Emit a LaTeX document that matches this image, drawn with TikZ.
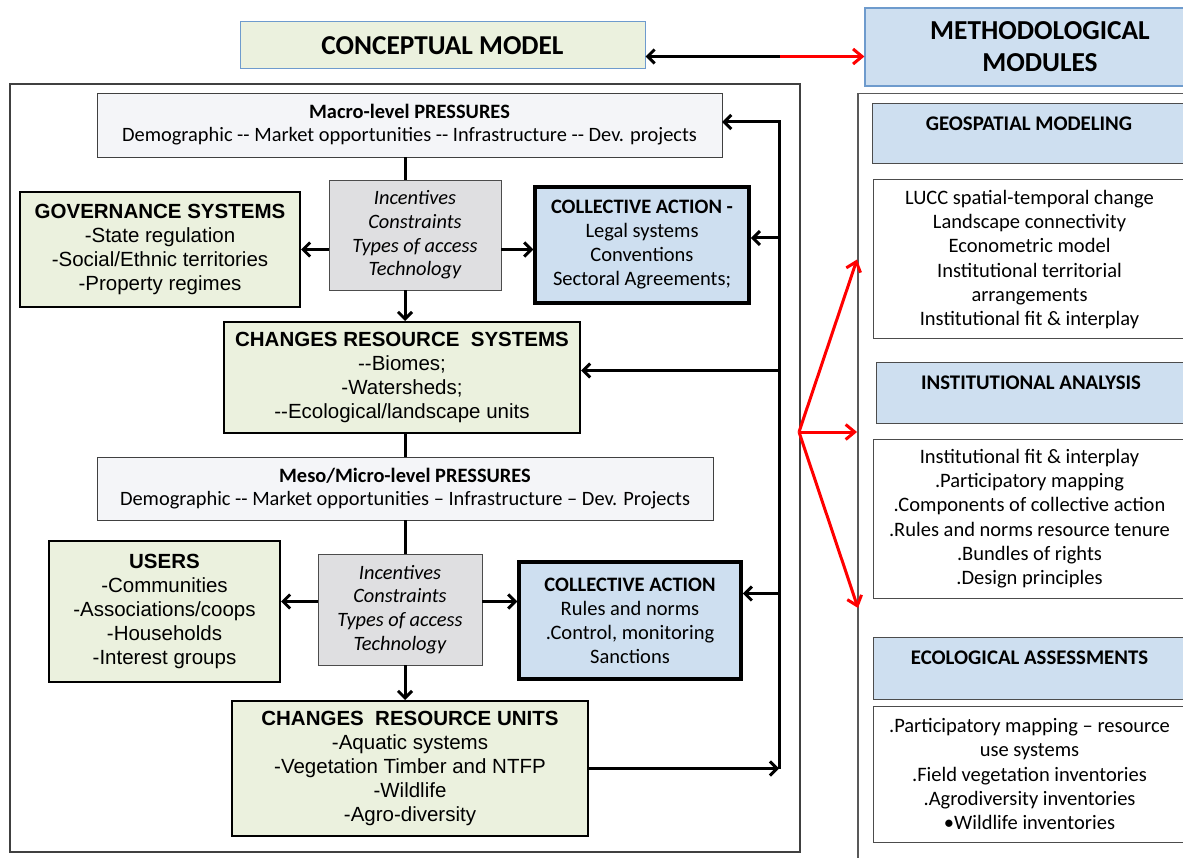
\documentclass[tikz,border=0pt]{standalone}
\usepackage{fontspec}
\setmainfont{Carlito}
\newfontfamily\arialfont{Liberation Sans}
\usetikzlibrary{arrows.meta}
\definecolor{paleGreen}{RGB}{235,241,222}
\definecolor{paleBlue}{RGB}{206,223,240}
\definecolor{incGray}{RGB}{223,223,225}
\definecolor{pressWhite}{RGB}{244,245,248}
\definecolor{edgeBlue}{RGB}{110,155,205}
\begin{document}
\begin{tikzpicture}[x=1pt,y=-1pt,
    every node/.style={inner sep=0pt,align=center},
    press/.style={draw=black!75,fill=pressWhite,font=\fontsize{20.4}{23}\selectfont},
    incent/.style={draw=black!70,fill=incGray,font=\itshape\fontsize{20.4}{23.7}\selectfont},
    greenbox/.style={draw,line width=2pt,fill=paleGreen,font=\arialfont\fontsize{20.5}{24}\selectfont},
    collect/.style={draw,line width=3.5pt,fill=paleBlue,font=\fontsize{20.5}{24}\selectfont},
    modhead/.style={draw=black!70,line width=1pt,fill=paleBlue,font=\bfseries\fontsize{20.8}{16}\selectfont},
    modbody/.style={draw=black!70,line width=1pt,fill=white,font=\fontsize{20.5}{24.3}\selectfont},
    frame/.style={draw=black!75,line width=1.2pt},
    arr/.style={line width=3pt,-{Straight Barb[length=7pt,width=14pt]}},
    plain/.style={line width=3pt},
    redarr/.style={red,line width=3pt,-{Straight Barb[length=9pt,width=15pt]}}]
    \useasboundingbox (0,0) rectangle (1183,858);
    \clip (0,0) rectangle (1183,858);
    % headers
    \node[draw=edgeBlue,line width=1pt,fill=paleGreen,minimum width=405,minimum height=47,font=\bfseries\fontsize{27.3}{30}\selectfont] (concept) at (442.5,45.5) {CONCEPTUAL MODEL};
    \node[draw=edgeBlue,line width=1.2pt,fill=paleBlue,minimum width=350,minimum height=78,font=\bfseries\fontsize{27.4}{32}\selectfont] (method) at (1040,47) {METHODOLOGICAL\\MODULES};
    \coordinate (mid) at (780,56.5);
    \draw[arr] (mid) -- ([yshift=-11pt]concept.east);
    \draw[redarr] (mid) -- ([yshift=-9.5pt]method.west);
    % conceptual model
    \node[frame,minimum width=790,minimum height=768] (concpanel) at (405,468) {};
    \coordinate (spine) at (405,0);
    \coordinate (loop) at (779,0);
    \node[press,minimum width=625,minimum height=64] (macro) at (409.5,125) {\textbf{Macro-level PRESSURES}\\Demographic -{}- Market opportunities -{}- Infrastructure -{}- Dev. projects};
    \node[incent,minimum width=172,minimum height=110] (inc1) at (415,235) {Incentives\\Constraints\\Types of access\\Technology};
    \node[greenbox,minimum width=280,minimum height=115] (gov) at (160,249.5) {\textbf{GOVERNANCE SYSTEMS}\\-State regulation\\-Social/Ethnic territories\\-Property regimes};
    \node[collect,minimum width=214,minimum height=116] (ca1) at (642,245) {\textbf{COLLECTIVE ACTION -}\\Legal systems\\Conventions\\Sectoral Agreements;};
    \node[greenbox,minimum width=356,minimum height=111] (crs) at (402,377.5) {\textbf{CHANGES RESOURCE~ SYSTEMS}\\-{}-Biomes;\\-Watersheds;\\-{}-Ecological/landscape units};
    \node[press,minimum width=616,minimum height=63] (meso) at (405,488.5) {\textbf{Meso/Micro-level PRESSURES}\\Demographic -{}- Market opportunities – Infrastructure – Dev. Projects};
    \node[incent,minimum width=164,minimum height=111] (inc2) at (400,609.5) {Incentives\\Constraints\\Types of access\\Technology};
    \node[greenbox,minimum width=231,minimum height=141] (users) at (164.5,611.5) {\textbf{USERS}\\-Communities\\-Associations/coops\\-Households\\-Interest groups};
    \node[collect,minimum width=222,minimum height=117] (ca2) at (630,620.5) {\textbf{COLLECTIVE ACTION}\\Rules and norms\\.Control, monitoring\\Sanctions};
    \node[greenbox,minimum width=356,minimum height=135] (cru) at (410,768.5) {\textbf{CHANGES~ RESOURCE UNITS}\\-Aquatic systems\\-Vegetation Timber and NTFP\\-Wildlife\\-Agro-diversity};
    \draw[plain] (macro.south -| spine) -- (inc1.north -| spine);
    \draw[arr] (inc1.west |- gov.east) -- (gov.east);
    \draw[arr] (inc1.east |- gov.east) -- (ca1.west |- gov.east);
    \draw[arr] (inc1.south -| spine) -- (crs.north -| spine);
    \draw[plain] (crs.south -| spine) -- (meso.north -| spine);
    \draw[plain] (meso.south -| spine) -- (inc2.north -| spine);
    \draw[arr] ([yshift=8pt]inc2.west) -- ([yshift=8pt]inc2.west -| users.east);
    \draw[arr] ([yshift=8pt]inc2.east) -- ([yshift=8pt]inc2.east -| ca2.west);
    \draw[arr] (inc2.south -| spine) -- (cru.north -| spine);
    \draw[arr] (cru.east) -- (cru.east -| loop);
    \draw[arr,line join=miter] (loop |- cru.east) -- ([yshift=3pt]loop |- macro.east) -- ([yshift=3pt]macro.east);
    \draw[arr] ([yshift=7pt]loop |- ca1.east) -- ([yshift=7pt]ca1.east);
    \draw[arr] ([yshift=7pt]loop |- crs.east) -- ([yshift=7pt]crs.east);
    \draw[arr] ([yshift=27pt]loop |- ca2.east) -- ([yshift=27pt]ca2.east);
    % methodological modules
    \node[draw=black!65,line width=1.5pt,anchor=north west,minimum width=340,minimum height=790] (modules) at (857,93) {};
    \node[modhead,minimum width=314,minimum height=60] (geohead) at (1029,134) {GEOSPATIAL MODELING\\ \strut};
    \node[modbody,minimum width=313,minimum height=159] (geobody) at (1029.5,259.5) {LUCC spatial-temporal change\\Landscape connectivity\\Econometric model\\Institutional territorial\\arrangements\\Institutional fit \& interplay};
    \node[modhead,minimum width=310,minimum height=60] (insthead) at (1031,393) {INSTITUTIONAL ANALYSIS\\ \strut};
    \node[modbody,minimum width=313,minimum height=159] (instbody) at (1029.5,518.5) {Institutional fit \& interplay\\.Participatory mapping\\.Components of collective action\\.Rules and norms resource tenure\\.Bundles of rights\\.Design principles};
    \node[modhead,minimum width=313,minimum height=62] (ecohead) at (1029.5,668) {ECOLOGICAL ASSESSMENTS\\ \strut};
    \node[modbody,minimum width=313,minimum height=136] (ecobody) at (1029.5,774) {.Participatory mapping – resource\\use systems\\.Field vegetation inventories\\.Agrodiversity inventories\\•Wildlife inventories};
    \coordinate (hub) at (799,432);
    \coordinate (tipdown) at (858,608);
    \draw[redarr] (hub) -- (modules.west |- geobody);
    \draw[redarr] (hub) -- (modules.west |- hub);
    \draw[redarr] (hub) -- (tipdown);
\end{tikzpicture}
\end{document}
